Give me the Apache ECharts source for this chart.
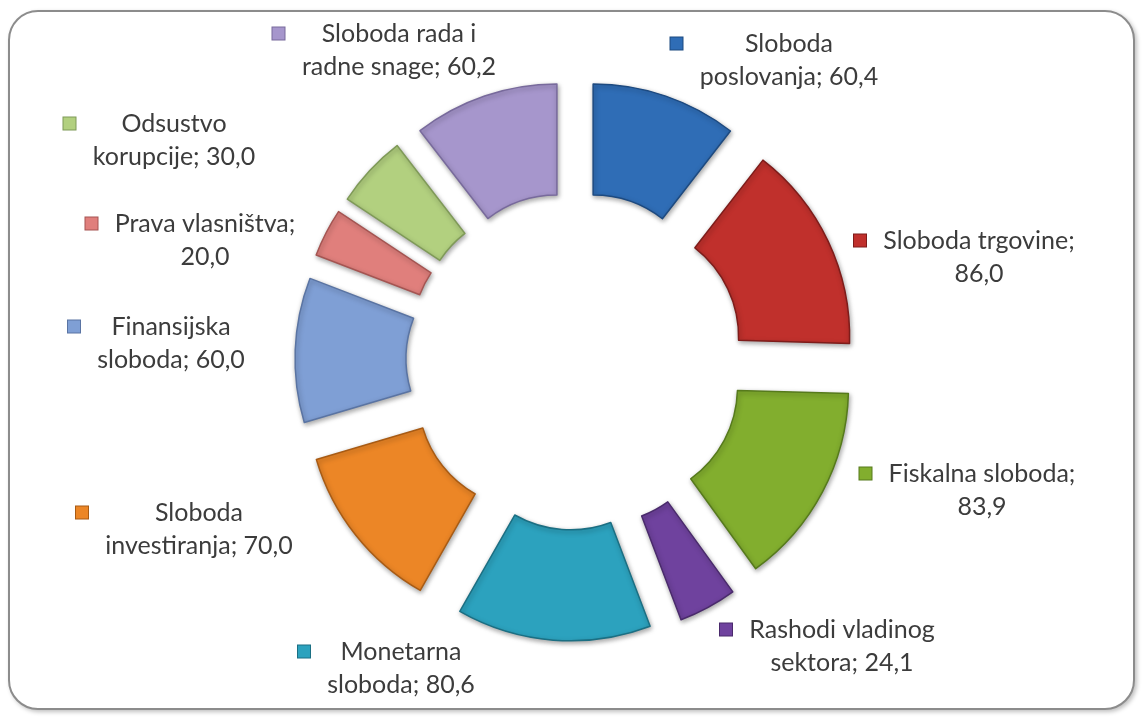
<!DOCTYPE html>
<html>
<head>
<meta charset="utf-8">
<script src="https://cdn.jsdelivr.net/npm/echarts@6/dist/echarts.min.js"></script>
<style>
  html, body { margin: 0; padding: 0; background: #ffffff; }
  #frame {
    position: absolute; left: 8px; top: 10px; width: 1127px; height: 700px;
    border: 2px solid #8c8c8c; border-radius: 30px; box-sizing: border-box;
    background: #ffffff; box-shadow: 2px 2px 4px rgba(0,0,0,0.25);
  }
  #chart { position: absolute; left: 0; top: 0; width: 1143px; height: 717px; }
</style>
</head>
<body>
<div id="frame"></div>
<div id="chart"></div>
<script>
// ---- data ----
const categories = ['Sloboda poslovanja', 'Sloboda trgovine', 'Fiskalna sloboda', 'Rashodi vladinog sektora',
  'Monetarna sloboda', 'Sloboda investiranja', 'Finansijska sloboda', 'Prava vlasništva',
  'Odsustvo korupcije', 'Sloboda rada i radne snage'];
const values = [60.4, 86.0, 83.9, 24.1, 80.6, 70.0, 60.0, 20.0, 30.0, 60.2];

// ---- styling / layout ----
const colors = ['#2f6db6', '#c0302c', '#82ae2e', '#6f429e', '#2ca2be', '#ec8626',
  '#7f9fd5', '#e07f7c', '#b2d07f', '#a696cc'];
const borders = ['#1d4a80', '#7e1c1a', '#567a1c', '#4a2a6c', '#1b6f83', '#a85b14',
  '#5a74a3', '#a55552', '#7f9a58', '#786a9c'];
const lineBreakAfter = [1, 2, 2, 2, 1, 1, 1, 2, 1, 3];   // words on first label line
const labelCenters = [[775, 60], [965, 257], [968, 490], [828, 646], [387, 668],
  [185, 529], [157, 343], [191, 240], [160, 140], [385, 50]];

const FONT = 'Lato, "Open Sans", sans-serif';
const FS = 25;
const ctx = document.createElement('canvas').getContext('2d');
ctx.font = FS + 'px ' + FONT;

function fmt(v) { return v.toFixed(1).replace('.', ','); }

const sliceData = categories.map((name, i) => ({
  name: name,
  value: values[i],
  selected: true,
  itemStyle: { color: colors[i], borderColor: borders[i] }
}));

const labelData = categories.map((name, i) => {
  const words = (name + '; ' + fmt(values[i])).split(' ');
  const l1 = words.slice(0, lineBreakAfter[i]).join(' ');
  const l2 = words.slice(lineBreakAfter[i]).join(' ');
  const w = Math.ceil(Math.max(ctx.measureText(l1).width, ctx.measureText(l2).width)) + 2;
  return {
    name: name,
    value: values[i],
    label: {
      formatter: '{m|}{g|}{a|' + l1 + '}\n{sp|}{a|' + l2 + '}',
      rich: {
        m: { width: 12, height: 12, backgroundColor: colors[i], borderColor: borders[i], borderWidth: 1 },
        g: { width: 16 },
        sp: { width: 28 },
        a: { width: w, align: 'center', fontSize: FS, lineHeight: 33, color: '#3c3c3c', fontFamily: FONT }
      }
    }
  };
});

const chart = echarts.init(document.getElementById('chart'), null, { renderer: 'canvas' });
chart.setOption({
  animation: false,
  series: [{
    type: 'pie',
    name: 'slices',
    center: [575, 361],
    radius: [113, 224],
    startAngle: 90,
    clockwise: true,
    selectedMode: 'multiple',
    selectedOffset: 56,
    avoidLabelOverlap: false,
    itemStyle: {
      borderWidth: 1.5,
      shadowColor: 'rgba(0,0,0,0.35)', shadowBlur: 5, shadowOffsetX: 1, shadowOffsetY: 2
    },
    select: { itemStyle: { borderWidth: 1.5 } },
    emphasis: { scale: false },
    label: { show: false },
    labelLine: { show: false },
    data: sliceData
  }, {
    type: 'pie',
    name: 'labels',
    silent: true,
    center: [575, 361],
    radius: [113, 224],
    startAngle: 90,
    clockwise: true,
    avoidLabelOverlap: false,
    itemStyle: { color: 'rgba(0,0,0,0)', borderWidth: 0 },
    label: {
      show: true, position: 'outside', fontFamily: FONT, fontSize: FS,
      align: 'center', verticalAlign: 'middle'
    },
    labelLine: { show: false },
    labelLayout: function (p) {
      const c = labelCenters[p.dataIndex];
      return { x: c[0], y: c[1], align: 'center', verticalAlign: 'middle', hideOverlap: false };
    },
    data: labelData
  }]
});
</script>
</body>
</html>
